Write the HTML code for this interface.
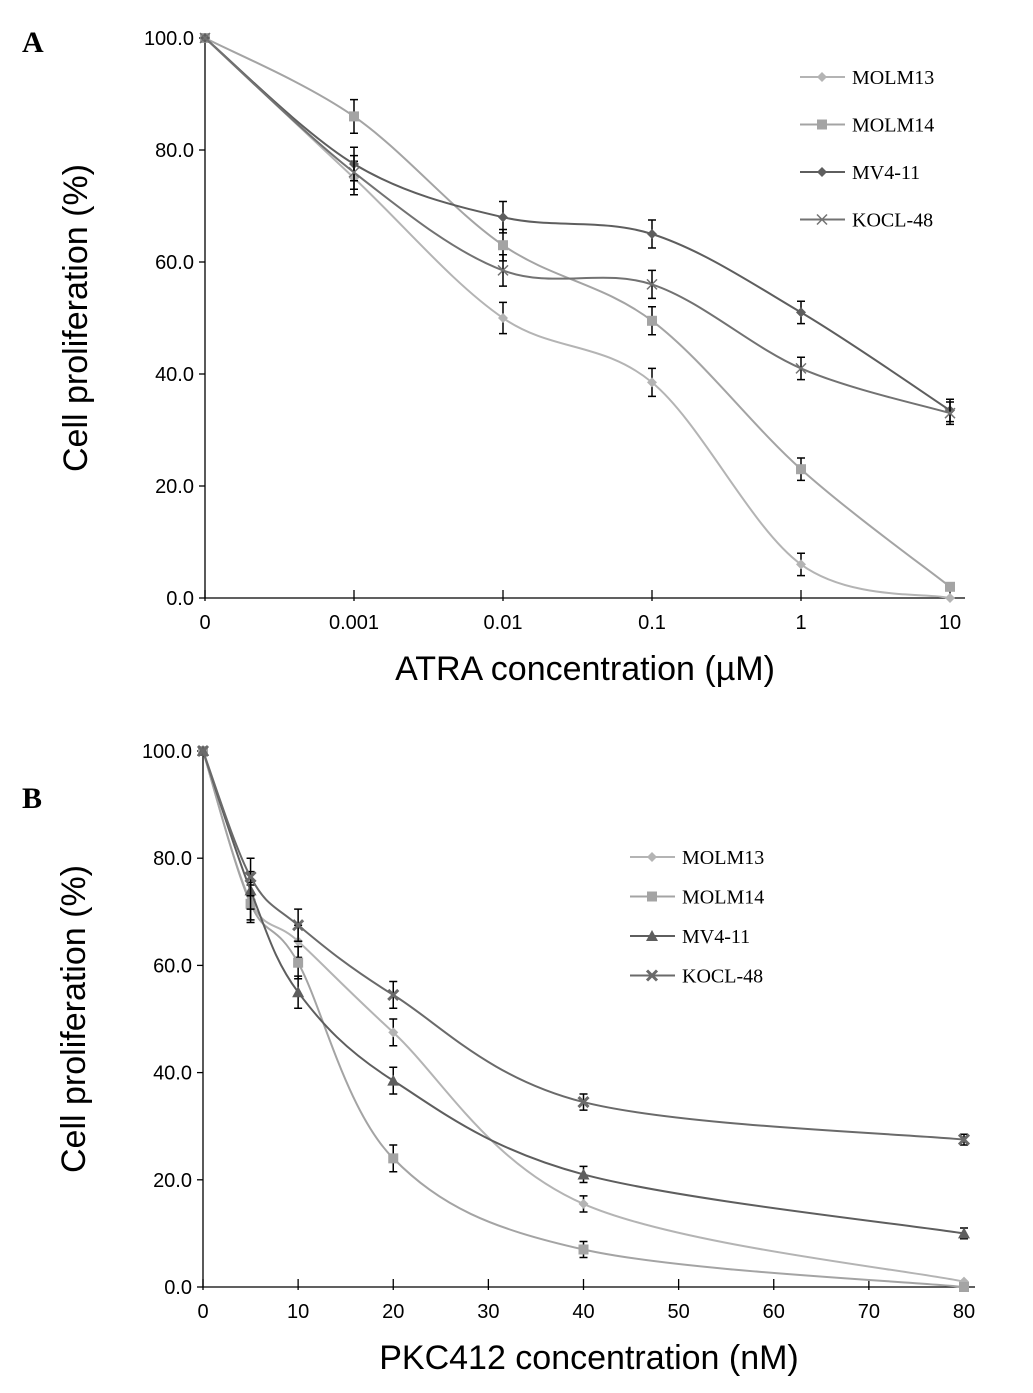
<!DOCTYPE html>
<html><head><meta charset="utf-8"><style>
body{margin:0;background:#fff}
svg{display:block}
</style></head><body>
<svg id="chart" width="1033" height="1393" xmlns="http://www.w3.org/2000/svg" font-family="Liberation Serif, serif"></svg>
<script>
// Panel A data
const catsA = ["0","0.001","0.01","0.1","1","10"];
const molm13A = [100,75,50,38.5,6,0];
const molm14A = [100,86,63,49.5,23,2];
const mv411A = [100,77.5,68,65,51,33.5];
const kocl48A = [100,76,58.5,56,41,33];
const errA = [3,3,2.8,2.5,2,2];
// Panel B data
const xB = [0,5,10,20,40,80];
const molm13B = [100,72,64.5,47.5,15.5,1];
const molm14B = [100,71.5,60.5,24,7,0];
const mv411B = [100,74,55,38.5,21,10];
const kocl48B = [100,76.5,67.5,54.5,34.5,27.5];
const errB = [2.5,3.5,3,2.5,1.5,1];
const yTicks = [0,20,40,60,80,100];
const xTicksB = [0,10,20,30,40,50,60,70,80];
const seriesNames = ["MOLM13","MOLM14","MV4-11","KOCL-48"];

const svg = document.getElementById('chart');
const NS = "http://www.w3.org/2000/svg";
function el(tag, attrs, parent){
  const e = document.createElementNS(NS, tag);
  for (const k in attrs) e.setAttribute(k, attrs[k]);
  (parent||svg).appendChild(e);
  return e;
}
function spline(pts){
  let d = `M${pts[0][0]},${pts[0][1]}`;
  for (let i=0;i<pts.length-1;i++){
    const p0=pts[Math.max(i-1,0)], p1=pts[i], p2=pts[i+1], p3=pts[Math.min(i+2,pts.length-1)];
    const t=0.5/3;
    const c1=[p1[0]+(p2[0]-p0[0])*t, p1[1]+(p2[1]-p0[1])*t];
    const c2=[p2[0]-(p3[0]-p1[0])*t, p2[1]-(p3[1]-p1[1])*t];
    d += ` C${c1[0]},${c1[1]} ${c2[0]},${c2[1]} ${p2[0]},${p2[1]}`;
  }
  return d;
}
function marker(g, type, x, y, color){
  let m;
  if (type==='diamond') m = el('path',{d:`M${x},${y-5}L${x+5},${y}L${x},${y+5}L${x-5},${y}Z`,fill:color},g);
  else if (type==='square') m = el('rect',{x:x-5,y:y-5,width:10,height:10,fill:color},g);
  else if (type==='triangle') m = el('path',{d:`M${x},${y-6}L${x+6},${y+5}L${x-6},${y+5}Z`,fill:color},g);
  else if (type==='x') m = el('path',{d:`M${x-5},${y-5}L${x+5},${y+5}M${x+5},${y-5}L${x-5},${y+5}`,stroke:color,'stroke-width':(g.dataset.bold?3:1.5)},g);
  
  
}
function panel(cfg){
  const {x0,x1,y0,y1,xs,title,series,err,markers,colors,legend,xlabels,xtickPos,name} = cfg;
  const g = el('g',{});
  
  
  const Y = v => y0 + (100-v)*(y1-y0)/100;
  const ax = el('path',{d:`M${x0},${y0}V${y1}H${x1}`,stroke:'#000','stroke-width':1.3,fill:'none'},g);
  
  
  yTicks.forEach(v=>{
    el('line',{x1:x0-6,x2:x0,y1:Y(v),y2:Y(v),stroke:'#000','stroke-width':1.3},g);
    const t = el('text',{x:x0-11,y:Y(v)+7,'text-anchor':'end','font-size':20,'font-family':'Liberation Sans, sans-serif'},g);
    t.textContent = v.toFixed(1);
    
    
  });
  xtickPos.forEach((px,i)=>{
    el('line',{x1:px,x2:px,y1:y1-8,y2:y1+3,stroke:'#000','stroke-width':1.3},g);
    const t = el('text',{x:px,y:y1+31,'text-anchor':'middle','font-size':20,'font-family':'Liberation Sans, sans-serif'},g);
    t.textContent = xlabels[i];
    
    
  });
  const yt = el('text',{x:0,y:0,transform:`translate(${x0-118},${(y0+y1)/2}) rotate(-90)`,'text-anchor':'middle','font-size':34,'font-family':'Liberation Sans, sans-serif'},g);
  yt.textContent='Cell proliferation (%)';
  
  
  const xt = el('text',{x:(x0+x1)/2,y:y1+82,'text-anchor':'middle','font-size':34,'font-family':'Liberation Sans, sans-serif'},g);
  xt.textContent=title;
  
  
  series.forEach((s,si)=>{
    const sg = el('g',{},g);
    
    
    if (cfg.bold && si===3) sg.dataset.bold='1';
    const pts = s.map((v,i)=>[xs[i],Y(v)]);
    el('path',{d:spline(pts),stroke:colors[si],'stroke-width':2,fill:'none'},sg);
    pts.forEach((p,i)=>{
      if (i>0 && s[i]>3){
        const e=err[i], a=Y(s[i]+e), b=Y(s[i]-e);
        el('path',{d:`M${p[0]},${a}V${b}M${p[0]-4},${a}H${p[0]+4}M${p[0]-4},${b}H${p[0]+4}`,stroke:'#000','stroke-width':1.5,fill:'none'},sg);
      }
      marker(sg,markers[si],p[0],p[1],colors[si]);
    });
  });
  seriesNames.forEach((n,i)=>{
    const ly = legend.y + i*legend.dy;
    const lg = el('g',{},g);
    
    
    if (cfg.bold && i===3) lg.dataset.bold='1';
    el('line',{x1:legend.x,x2:legend.x+45,y1:ly,y2:ly,stroke:colors[i],'stroke-width':2},lg);
    marker(lg,markers[i],legend.x+22,ly,colors[i]);
    const t=el('text',{x:legend.x+52,y:ly+7,'font-size':20},lg);
    t.textContent=n;
  });
}
const posA = catsA.map((c,i)=>205+i*149);
panel({name:'panel-a',x0:205,x1:965,y0:38,y1:598,xs:posA,xtickPos:posA,xlabels:catsA,title:'ATRA concentration (µM)',
  series:[molm13A,molm14A,mv411A,kocl48A],err:errA,markers:['diamond','square','diamond','x'],
  colors:['#b4b4b4','#a4a4a4','#5e5e5e','#727272'],legend:{x:800,y:77,dy:47.5}});
const XB = v => 203 + v*(964-203)/80;
panel({name:'panel-b',x0:203,x1:975,y0:751,y1:1287,xs:xB.map(XB),xtickPos:xTicksB.map(XB),xlabels:xTicksB.map(String),title:'PKC412 concentration (nM)',
  series:[molm13B,molm14B,mv411B,kocl48B],err:errB,markers:['diamond','square','triangle','x'],bold:true,
  colors:['#b4b4b4','#a4a4a4','#5e5e5e','#6a6a6a'],legend:{x:630,y:857,dy:39.5}});
const la = el('text',{x:22,y:52,'font-size':30,'font-weight':'bold'}); la.textContent='A';
 
const lb = el('text',{x:22,y:808,'font-size':30,'font-weight':'bold'}); lb.textContent='B';
 
</script>
</body></html>
